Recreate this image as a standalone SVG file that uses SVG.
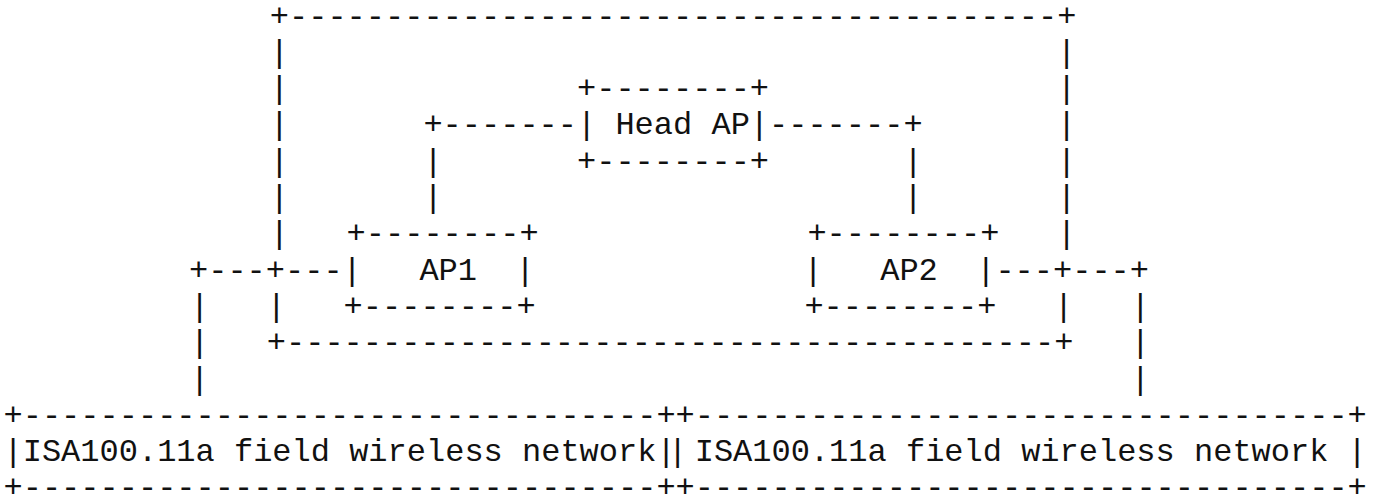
<svg xmlns="http://www.w3.org/2000/svg" width="1377" height="498" viewBox="0 0 1377 498" xml:space="preserve">
<style>
text { font-family: "Liberation Mono", "Courier New", monospace; font-size: 32px; fill: #111; white-space: pre; }
</style>
<rect width="1377" height="498" fill="#ffffff"/>
<g id="connectors">
<text x="269.8" y="25.5">+----------------------------------------+</text>
<text x="269.8" y="61.8">|</text><text x="1057" y="61.8">|</text>
<text x="269.8" y="98.1">|</text><text x="1057" y="98.1">|</text>
<text x="269.8" y="134.4">|</text><text x="423.4" y="134.4">+-------</text><text x="769" y="134.4">-------+</text><text x="1057" y="134.4">|</text>
<text x="269.8" y="170.7">|</text><text x="423.4" y="170.7">|</text><text x="903.4" y="170.7">|</text><text x="1057" y="170.7">|</text>
<text x="269.8" y="207">|</text><text x="423.4" y="207">|</text><text x="903.4" y="207">|</text><text x="1057" y="207">|</text>
<text x="269.8" y="243.3">|</text><text x="1057" y="243.3">|</text>
<text x="189" y="279.6">+---+---</text><text x="995.4" y="279.6">---+---+</text>
<text x="190" y="315.9">|</text><text x="266.8" y="315.9">|</text><text x="1054" y="315.9">|</text><text x="1130.8" y="315.9">|</text>
<text x="190" y="352.2">|</text><text x="266.8" y="352.2">+----------------------------------------+</text><text x="1130.8" y="352.2">|</text>
<text x="190" y="388.5">|</text><text x="1130.8" y="388.5">|</text>
</g>
<g id="head-ap">
<text x="577" y="98.1">+--------+</text>
<text x="577" y="134.4">| Head AP|</text>
<text x="577" y="170.7">+--------+</text>
</g>
<g id="ap1">
<text x="346.6" y="243.3">+--------+</text>
<text x="342.6" y="279.6">|   AP1  |</text>
<text x="343.6" y="315.9">+--------+</text>
</g>
<g id="ap2">
<text x="807.4" y="243.3">+--------+</text>
<text x="803.4" y="279.6">|   AP2  |</text>
<text x="804.4" y="315.9">+--------+</text>
</g>
<g id="network-1">
<text x="3.5" y="424.8">+---------------------------------+</text>
<text x="3.5" y="461.1">|ISA100.11a field wireless network|</text>
<text x="3.5" y="497.4">+---------------------------------+</text>
</g>
<g id="network-2">
<text x="675.5" y="424.8">+----------------------------------+</text>
<text x="668" y="461.1">|</text><text x="694.7" y="461.1">ISA100.11a field wireless network |</text>
<text x="675.5" y="497.4">+----------------------------------+</text>
</g>
</svg>
